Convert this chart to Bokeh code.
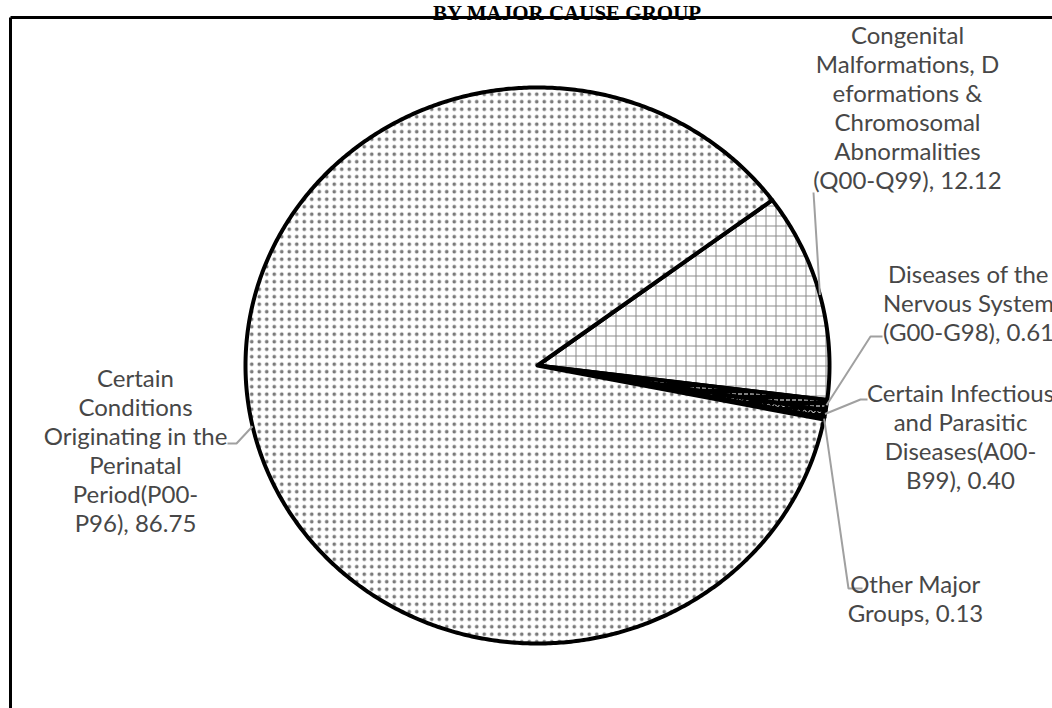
import numpy as np
from bokeh.plotting import figure
from bokeh.models import Range1d, ColumnDataSource
from bokeh.core.properties import value
from bokeh.embed import file_html
from bokeh.resources import INLINE

# ---------------- data ----------------
title_text = "BY MAJOR CAUSE GROUP"
categories = [
    "Congenital Malformations, Deformations & Chromosomal Abnormalities (Q00-Q99)",
    "Diseases of the Nervous System (G00-G98)",
    "Certain Infectious and Parasitic Diseases(A00-B99)",
    "Other Major Groups",
    "Certain Conditions Originating in the Perinatal Period(P00-P96)",
]
values = [12.12, 0.61, 0.40, 0.13, 86.75]
label_lines = [
    ["Congenital", "Malformations, D", "eformations &", "Chromosomal", "Abnormalities", "(Q00-Q99), {v}"],
    ["Diseases of the", "Nervous System", "(G00-G98), {v}"],
    ["Certain Infectious", "and Parasitic", "Diseases(A00-", "B99), {v}"],
    ["Other Major", "Groups, {v}"],
    ["Certain", "Conditions", "Originating in the", "Perinatal", "Period(P00-", "P96), {v}"],
]

# ---------------- layout / style ----------------
W, H = 1052, 708
CX, CY = 537.0, 365.0
RX, RY = 292.0, 278.0
START_DEG = 36.5          # first slice starts here, slices go clockwise
LINE_H = 29
label_pos = [(907, 34), (968, 273), (960, 392), (915, 583), (135, 377)]
leader_pts = [
    [(813, 192)],
    [(882, 336), (870, 336)],
    [(867, 399), (860, 399)],
    [(862, 588), (848, 588)],
    [(227, 443), (236, 443)],
]
fills = ["white", "black", "black", "white", "white"]
hatches = ["cross", "horizontal_dash", "horizontal_wave", "horizontal_line", "dot"]
hatch_colors = ["#8a8a8a", "white", "white", "black", "#7a7a7a"]
hatch_scales = [10, 6, 6, 3, 7.5]
hatch_weights = [1, 1, 1, 1, 1.3]
TEXT_COLOR = "#474747"
LEADER_COLOR = "#a0a0a0"
FONT = "Lato"

p = figure(width=W, height=H, x_range=Range1d(0, W), y_range=Range1d(H, 0),
           output_backend="svg", toolbar_location=None, min_border=0)
p.axis.visible = False
p.grid.visible = False
p.outline_line_color = None
p.background_fill_color = "white"
p.border_fill_color = "white"

# ---------------- pie slices ----------------
total = sum(values)
angles = np.array(values) / total * 360.0
ends = START_DEG - np.cumsum(angles)
starts = ends + angles
xs, ys, mids = [], [], []
for a0, a1 in zip(starts, ends):
    n = max(int(abs(a0 - a1) * 2), 4)
    t = np.radians(np.linspace(a0, a1, n))
    xs.append(np.concatenate([[CX], CX + RX * np.cos(t), [CX]]).tolist())
    ys.append(np.concatenate([[CY], CY - RY * np.sin(t), [CY]]).tolist())
    mids.append(np.radians((a0 + a1) / 2))

src = ColumnDataSource(dict(xs=xs, ys=ys, name=categories, fill=fills, hatch=hatches,
                            hcol=hatch_colors, hscale=hatch_scales, hw=hatch_weights))
p.patches("xs", "ys", source=src, fill_color="fill", hatch_pattern="hatch",
          hatch_color="hcol", hatch_scale="hscale", hatch_weight="hw",
          line_color="black", line_width=4, line_join="round")

# ---------------- leader lines ----------------
lx, ly = [], []
for pts, m in zip(leader_pts, mids):
    ax = CX + RX * np.cos(m)
    ay = CY - RY * np.sin(m)
    lx.append([q[0] for q in pts] + [ax])
    ly.append([q[1] for q in pts] + [ay])
p.multi_line(lx, ly, line_color=LEADER_COLOR, line_width=2)

# ---------------- labels ----------------
tx, ty, tt = [], [], []
for lines, v, (x0, y0) in zip(label_lines, values, label_pos):
    for i, ln in enumerate(lines):
        tx.append(x0)
        ty.append(y0 + i * LINE_H)
        tt.append(ln.format(v=f"{v:.2f}"))
p.text(tx, ty, text=tt, text_align="center", text_baseline="middle",
       text_font=value(FONT), text_font_size="24px", text_color=TEXT_COLOR)

# ---------------- frame + cropped title ----------------
p.segment(x0=[10, 10], y0=[17, 17], x1=[1100, 10], y1=[17, 800],
          line_color="black", line_width=3)
p.text([567], [12], text=[title_text], text_align="center", text_baseline="alphabetic",
       text_font=value("Liberation Serif"), text_font_style="bold",
       text_font_size="21px", text_color="black")

open("out.html", "w").write(file_html(p, INLINE))
